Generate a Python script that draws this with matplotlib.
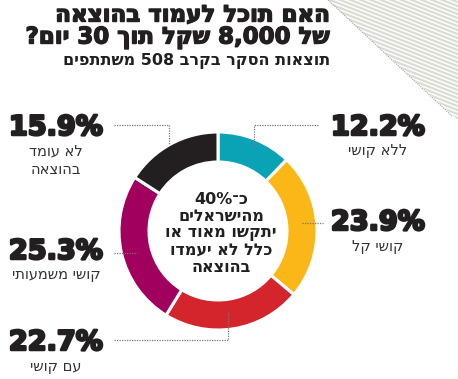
import re
import matplotlib
matplotlib.use("Agg")
import matplotlib.pyplot as plt
from matplotlib.patches import Polygon
import matplotlib.patheffects as pe

plt.rcParams['font.family'] = ['DejaVu Sans']


def rtl(s):
    # matplotlib has no bidi: flip the string, keep number runs left-to-right
    out = s[::-1]
    return re.sub(r'[\d.,%]+', lambda m: m.group(0)[::-1], out)


# data (clockwise from 12 o'clock)
labels = ['ללא קושי', 'קושי קל', 'עם קושי', 'קושי משמעותי', 'לא עומד\nבהוצאה']
values = [12.2, 23.9, 22.7, 25.3, 15.9]
colors = ['#0aa3b6', '#fbb617', '#d5252c', '#a2005f', '#231f20']

title = ['האם תוכל לעמוד בהוצאה', 'של 8,000 שקל תוך 30 יום?']
subtitle = 'תוצאות הסקר בקרב 508 משתתפים'
center_text = ['כ־40%', 'מהישראלים', 'יתקשו מאוד או', 'כלל לא יעמדו', 'בהוצאה']

fig = plt.figure(figsize=(4.58, 3.79), dpi=100)
ax = fig.add_axes([0, 0, 1, 1])

# donut
cx, cy, r = 218, 231, 99
ax.pie(values, colors=colors, startangle=-90, counterclock=True,
       center=(cx, cy), radius=r,
       wedgeprops=dict(width=30, edgecolor='white', linewidth=2.2))

ax.set_xlim(0, 458)
ax.set_ylim(379, 0)
ax.set_aspect('auto')
ax.axis('off')

# striped corner
tri = Polygon([(328, 0), (460, 0), (460, 122)], closed=True, facecolor='none',
              edgecolor='none')
ax.add_patch(tri)
for k in range(-60, 160, 4):
    ln, = ax.plot([320, 460], [k, k + 55], color='#dcdcd3', lw=1.6)
    ln.set_clip_path(tri)
ax.plot([328, 452], [0, 116], color='#a0a0a0', lw=0.8, ls=(0, (1, 1)))

# title
dark = '#231f20'
tstroke = [pe.withStroke(linewidth=1.0, foreground=dark)]
ax.text(330, 15, rtl(title[0]), ha='right', va='center', fontsize=16.5,
        fontweight='bold', color=dark, path_effects=tstroke)
ax.text(330, 38, rtl(title[1]), ha='right', va='center', fontsize=16.5,
        fontweight='bold', color=dark, path_effects=tstroke)
ax.text(330, 61, rtl(subtitle), ha='right', va='center', fontsize=11.5,
        fontweight='bold', color=dark)

# center text
for i, line in enumerate(center_text):
    ax.text(221, 200 + i * 16.8, rtl(line), ha='center', va='center',
            fontsize=11.5, fontweight='bold', color=dark)

# value labels: (x, y of number)
pos = [(378, 128), (378, 223), (56, 343), (56, 252), (56, 128)]
heavy = [pe.withStroke(linewidth=1.8, foreground=dark)]
for (x, y), v, lab in zip(pos, values, labels):
    ax.text(x, y, f'{v:.1f}%', ha='center', va='center', fontsize=19.5,
            fontweight='bold', color=dark, path_effects=heavy)
    for j, part in enumerate(lab.split('\n')):
        ax.text(x, y + 23 + j * 19, rtl(part), ha='center', va='center',
                fontsize=10.5, color='#333333')

# dotted leader lines
dot = dict(color='#777777', lw=0.9, ls=(0, (1, 1)))
ax.plot([318, 254, 254], [125, 125, 148], **dot)
ax.plot([114, 169, 169], [125, 125, 145], **dot)
ax.plot([302, 323], [223, 223], **dot)
ax.plot([114, 137], [253, 253], **dot)
ax.plot([114, 228, 228], [340, 340, 312], **dot)

fig.savefig('out.png', dpi=100, facecolor='white')
